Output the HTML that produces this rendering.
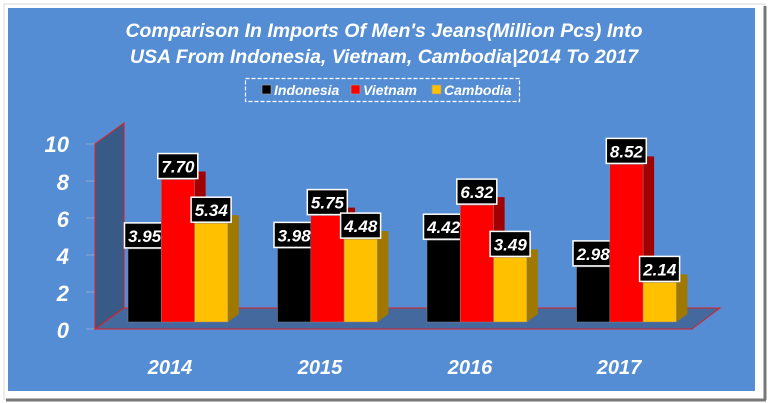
<!DOCTYPE html>
<html><head><style>
html,body{margin:0;padding:0;background:#fff;}
svg{display:block;}
text{font-family:"Liberation Sans",sans-serif;font-weight:bold;font-style:italic;fill:#fff;}
.lb{fill:#000;stroke:#fff;stroke-width:1.5;}
</style></head><body>
<svg width="768" height="403" viewBox="0 0 768 403">
<rect x="0" y="0" width="768" height="403" fill="#fff"/>
<rect x="4" y="4" width="761" height="395" fill="#fff" stroke="#d8d8d8" stroke-width="1"/>
<line x1="765" y1="6" x2="765" y2="400" stroke="#777" stroke-width="3"/>
<line x1="6" y1="400" x2="766" y2="400" stroke="#777" stroke-width="3"/>
<rect x="8" y="8" width="747" height="383" fill="#548dd4"/>
<text x="384" y="37" font-size="19.5" text-anchor="middle">Comparison In Imports Of Men's Jeans(Million Pcs) Into</text>
<text x="384" y="63" font-size="19.5" text-anchor="middle">USA From Indonesia, Vietnam, Cambodia|2014 To 2017</text>
<rect x="245.5" y="78.5" width="274" height="23" fill="none" stroke="#fff" stroke-width="1.2" stroke-dasharray="4,2"/>
<rect x="262" y="85" width="9" height="9" fill="#000" stroke="#999" stroke-width="0.7"/>
<text x="274" y="95" font-size="14">Indonesia</text>
<rect x="351" y="85" width="9" height="9" fill="#f00" stroke="#999" stroke-width="0.7"/>
<text x="363" y="95" font-size="14">Vietnam</text>
<rect x="432" y="85" width="9" height="9" fill="#ffc000" stroke="#999" stroke-width="0.7"/>
<text x="444" y="95" font-size="14">Cambodia</text>
<g font-size="22" text-anchor="end">
<text x="69" y="152">10</text><text x="69" y="190">8</text><text x="69" y="227">6</text>
<text x="69" y="264">4</text><text x="69" y="301">2</text><text x="69" y="338">0</text>
</g>
<g stroke="#8aa8d0" stroke-width="1">
<line x1="86" y1="144" x2="95" y2="144"/><line x1="86" y1="181" x2="95" y2="181"/>
<line x1="86" y1="218" x2="95" y2="218"/><line x1="86" y1="255" x2="95" y2="255"/>
<line x1="86" y1="292" x2="95" y2="292"/><line x1="86" y1="329" x2="95" y2="329"/>
</g>
<polygon points="95,144 124,123 124,308 95,329" fill="#375a86" stroke="#e02020" stroke-width="1"/>
<polygon points="95,329 124,308 720,308 692,329" fill="#43699f" stroke="#e02020" stroke-width="1"/>

<!-- 2014 -->
<g transform="translate(128,248.9)"><polygon points="33.3,0 44.3,-8 44.3,65.1 33.3,73.1" fill="#222"/><polygon points="0,0 11,-8 44.3,-8 33.3,0" fill="#222"/><rect width="33.3" height="73.1" fill="#000" stroke="#888" stroke-width="0.5"/><rect class="lb" x="-3.5" y="-26" width="40" height="25"/><text x="16.65" y="-7" font-size="17" text-anchor="middle">3.95</text></g>
<g transform="translate(161.3,179.55)"><polygon points="33.3,0 44.3,-8 44.3,134.45 33.3,142.45" fill="#a00000"/><polygon points="0,0 11,-8 44.3,-8 33.3,0" fill="#a00000"/><rect width="33.3" height="142.45" fill="#f00" stroke="#888" stroke-width="0.5"/><rect class="lb" x="-3.5" y="-26" width="40" height="25"/><text x="16.65" y="-7" font-size="17" text-anchor="middle">7.70</text></g>
<g transform="translate(194.6,223.2)"><polygon points="33.3,0 44.3,-8 44.3,90.8 33.3,98.8" fill="#a07800"/><polygon points="0,0 11,-8 44.3,-8 33.3,0" fill="#a07800"/><rect width="33.3" height="98.8" fill="#ffc000" stroke="#888" stroke-width="0.5"/><rect class="lb" x="-3.5" y="-26" width="40" height="25"/><text x="16.65" y="-7" font-size="17" text-anchor="middle">5.34</text></g>
<!-- 2015 -->
<g transform="translate(277.5,248.4)"><polygon points="33.3,0 44.3,-8 44.3,65.6 33.3,73.6" fill="#222"/><polygon points="0,0 11,-8 44.3,-8 33.3,0" fill="#222"/><rect width="33.3" height="73.6" fill="#000" stroke="#888" stroke-width="0.5"/><rect class="lb" x="-3.5" y="-26" width="40" height="25"/><text x="16.65" y="-7" font-size="17" text-anchor="middle">3.98</text></g>
<g transform="translate(310.8,215.6)"><polygon points="33.3,0 44.3,-8 44.3,98.4 33.3,106.4" fill="#a00000"/><polygon points="0,0 11,-8 44.3,-8 33.3,0" fill="#a00000"/><rect width="33.3" height="106.4" fill="#f00" stroke="#888" stroke-width="0.5"/><rect class="lb" x="-3.5" y="-26" width="40" height="25"/><text x="16.65" y="-7" font-size="17" text-anchor="middle">5.75</text></g>
<g transform="translate(344.1,239.1)"><polygon points="33.3,0 44.3,-8 44.3,74.9 33.3,82.9" fill="#a07800"/><polygon points="0,0 11,-8 44.3,-8 33.3,0" fill="#a07800"/><rect width="33.3" height="82.9" fill="#ffc000" stroke="#888" stroke-width="0.5"/><rect class="lb" x="-3.5" y="-26" width="40" height="25"/><text x="16.65" y="-7" font-size="17" text-anchor="middle">4.48</text></g>
<!-- 2016 -->
<g transform="translate(427,240.2)"><polygon points="33.3,0 44.3,-8 44.3,73.8 33.3,81.8" fill="#222"/><polygon points="0,0 11,-8 44.3,-8 33.3,0" fill="#222"/><rect width="33.3" height="81.8" fill="#000" stroke="#888" stroke-width="0.5"/><rect class="lb" x="-3.5" y="-26" width="40" height="25"/><text x="16.65" y="-7" font-size="17" text-anchor="middle">4.42</text></g>
<g transform="translate(460.3,205.1)"><polygon points="33.3,0 44.3,-8 44.3,108.9 33.3,116.9" fill="#a00000"/><polygon points="0,0 11,-8 44.3,-8 33.3,0" fill="#a00000"/><rect width="33.3" height="116.9" fill="#f00" stroke="#888" stroke-width="0.5"/><rect class="lb" x="-3.5" y="-26" width="40" height="25"/><text x="16.65" y="-7" font-size="17" text-anchor="middle">6.32</text></g>
<g transform="translate(493.6,257.4)"><polygon points="33.3,0 44.3,-8 44.3,56.6 33.3,64.6" fill="#a07800"/><polygon points="0,0 11,-8 44.3,-8 33.3,0" fill="#a07800"/><rect width="33.3" height="64.6" fill="#ffc000" stroke="#888" stroke-width="0.5"/><rect class="lb" x="-3.5" y="-26" width="40" height="25"/><text x="16.65" y="-7" font-size="17" text-anchor="middle">3.49</text></g>
<!-- 2017 -->
<g transform="translate(576.5,266.9)"><polygon points="33.3,0 44.3,-8 44.3,47.1 33.3,55.1" fill="#222"/><polygon points="0,0 11,-8 44.3,-8 33.3,0" fill="#222"/><rect width="33.3" height="55.1" fill="#000" stroke="#888" stroke-width="0.5"/><rect class="lb" x="-3.5" y="-26" width="40" height="25"/><text x="16.65" y="-7" font-size="17" text-anchor="middle">2.98</text></g>
<g transform="translate(609.8,164.4)"><polygon points="33.3,0 44.3,-8 44.3,149.6 33.3,157.6" fill="#a00000"/><polygon points="0,0 11,-8 44.3,-8 33.3,0" fill="#a00000"/><rect width="33.3" height="157.6" fill="#f00" stroke="#888" stroke-width="0.5"/><rect class="lb" x="-3.5" y="-26" width="40" height="25"/><text x="16.65" y="-7" font-size="17" text-anchor="middle">8.52</text></g>
<g transform="translate(643.1,282.4)"><polygon points="33.3,0 44.3,-8 44.3,31.6 33.3,39.6" fill="#a07800"/><polygon points="0,0 11,-8 44.3,-8 33.3,0" fill="#a07800"/><rect width="33.3" height="39.6" fill="#ffc000" stroke="#888" stroke-width="0.5"/><rect class="lb" x="-3.5" y="-26" width="40" height="25"/><text x="16.65" y="-7" font-size="17" text-anchor="middle">2.14</text></g>

<g font-size="20" text-anchor="middle">
<text x="170" y="374">2014</text><text x="320" y="374">2015</text>
<text x="470" y="374">2016</text><text x="619" y="374">2017</text>
</g>
</svg>
</body></html>
